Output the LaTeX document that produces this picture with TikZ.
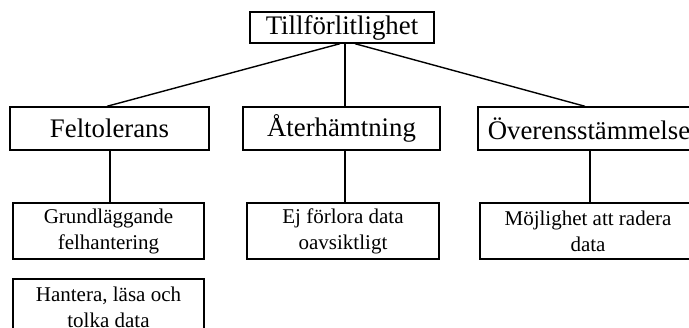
\documentclass[tikz,border=0pt]{standalone}
\usepackage{fontspec}
\setmainfont{Liberation Serif}
\begin{document}
\begin{tikzpicture}[x=1pt,y=-1pt,
  box/.style={draw,line width=1.4pt,inner sep=0pt,align=center,anchor=center},
  bigbox/.style={box,font=\fontsize{26.8}{31}\selectfont},
  smallbox/.style={box,font=\fontsize{21}{26}\selectfont,minimum height=56pt},
  link/.style={line width=1.4pt}]
\useasboundingbox (0,0) rectangle (689,328);
\clip (0,0) rectangle (689,328);
% top level
\node[bigbox,minimum width=184pt,minimum height=31pt] (top) at (342,27.5) {Tillförlitlighet};
% second level
\node[bigbox,minimum width=199pt,minimum height=43pt] (fel) at (109.5,128.5) {Feltolerans};
\node[bigbox,minimum width=197pt,minimum height=43pt] (ater) at (341.5,128.5) {Återhämtning};
\node[bigbox,minimum width=222pt,minimum height=43pt] (over) at (589,128.5) {Överensstämmelse};
% third level
\node[smallbox,minimum width=191pt] (grund) at (108.5,231) {Grundläggande\\felhantering};
\node[smallbox,minimum width=192pt] (ej) at (343,231) {Ej förlora data\\oavsiktligt};
\node[smallbox,minimum width=216pt] (moj) at (588,231) {Möjlighet att radera\\data};
\node[smallbox,minimum width=191pt] (hant) at (108.5,307) {Hantera, läsa och\\tolka data};
% connectors
\draw[link] ([xshift=-2pt]top.south) -- ([xshift=-2.5pt]fel.north);
\draw[link] ([xshift=3pt]top.south) -- ([xshift=3pt]top.south |- ater.north);
\draw[link] ([xshift=13pt]top.south) -- ([xshift=-4pt]over.north);
\draw[link] ([xshift=0.5pt]fel.south) -- ([xshift=0.5pt]fel.south |- grund.north);
\draw[link] ([xshift=3.5pt]ater.south) -- ([xshift=3.5pt]ater.south |- ej.north);
\draw[link] ([xshift=1pt]over.south) -- ([xshift=1pt]over.south |- moj.north);
\end{tikzpicture}
\end{document}
